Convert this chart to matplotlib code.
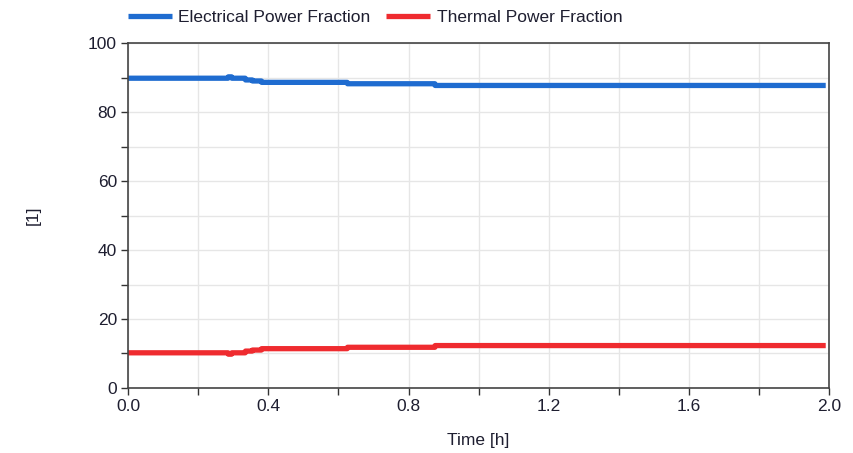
import matplotlib.pyplot as plt
from matplotlib.ticker import MultipleLocator

# step data
time_h = [0.0, 0.285, 0.286, 0.295, 0.296, 0.334, 0.335, 0.354, 0.355, 0.38, 0.381,
          0.625, 0.626, 0.875, 0.876, 1.99]
electrical = [89.8, 89.8, 90.2, 90.2, 89.8, 89.8, 89.3, 89.3, 89.0, 89.0, 88.6,
              88.6, 88.2, 88.2, 87.7, 87.7]
thermal = [100 - v for v in electrical]

plt.rcParams['font.family'] = ['Liberation Sans', 'DejaVu Sans']
plt.rcParams['font.size'] = 12.5

fig = plt.figure(figsize=(8.54, 4.53), dpi=100)
ax = fig.add_axes([0.15, 0.1435, 0.821, 0.7615])

ax.plot(time_h, electrical, color='#1f6cd0', lw=3.8, solid_capstyle='butt',
        label='Electrical Power Fraction')
ax.plot(time_h, thermal, color='#ef2b2f', lw=3.8, solid_capstyle='butt',
        label='Thermal Power Fraction')

ax.set_xlim(0, 2.0)
ax.set_ylim(0, 100)
ax.xaxis.set_major_locator(MultipleLocator(0.4))
ax.xaxis.set_minor_locator(MultipleLocator(0.2))
ax.yaxis.set_major_locator(MultipleLocator(20))
ax.yaxis.set_minor_locator(MultipleLocator(10))
ax.xaxis.set_major_formatter(lambda v, p: f"{v:.1f}")
ax.grid(True, which='both', color='#e6e6e6', lw=1)
ax.set_axisbelow(True)
ax.tick_params(which='both', direction='out', length=5, width=1, color='#333333',
               labelcolor='#1e1e30', pad=3)
for s in ax.spines.values():
    s.set_color('#444444')
    s.set_linewidth(1.2)

ax.set_xlabel('Time [h]', color='#1e1e30')
ax.set_ylabel('[1]', color='#1e1e30')
ax.xaxis.set_label_coords(0.5, -0.13)
ax.yaxis.set_label_coords(-0.124, 0.5)

ax.legend(loc='center left', bbox_to_anchor=(0.0, 1.075), ncol=2, frameon=False,
          handlelength=2.5, handletextpad=0.4, columnspacing=0.9, borderaxespad=0,
          borderpad=0, labelcolor='#1e1e30', fontsize=12.5)

fig.savefig('out.png', dpi=100)
